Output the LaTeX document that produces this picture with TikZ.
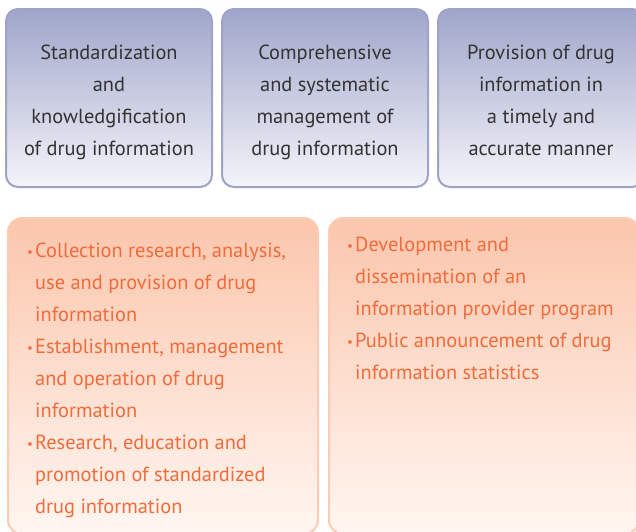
\documentclass[tikz,border=0pt]{standalone}
\usepackage{fontspec}
\setmainfont{PT Sans}
\usepackage{xcolor}
\usetikzlibrary{positioning,calc}

\definecolor{goalTop}{HTML}{A0A6CA}
\definecolor{goalBot}{HTML}{F4F4FA}
\definecolor{goalLine}{HTML}{9DA3C9}
\definecolor{taskTop}{HTML}{FBC6AC}
\definecolor{taskBot}{HTML}{FFF6F1}
\definecolor{taskLine}{HTML}{FBCBB4}
\definecolor{taskText}{HTML}{F26B3A}
\definecolor{goalText}{HTML}{333333}

\newcommand{\itm}{\makebox[8pt][l]{\raisebox{0.15ex}{\fontsize{13}{13}\selectfont\textbullet}}}
\newcommand{\cnt}{\hspace*{8pt}}

\tikzset{
  goal/.style={draw=goalLine, line width=2pt, rounded corners=12pt,
    top color=goalTop, bottom color=goalBot, minimum width=206pt,
    minimum height=178pt},
  goaltext/.style={text=goalText, align=center, inner sep=0pt,
    font=\fontsize{20.4}{32}\selectfont},
  task/.style={draw=taskLine, line width=2pt, rounded corners=14pt,
    top color=taskTop, bottom color=taskBot, minimum width=310pt,
    minimum height=316pt},
  tasktext/.style={text=taskText, align=left, inner sep=0pt,
    font=\fontsize{20.4}{32}\selectfont}
}

\begin{document}
\begin{tikzpicture}[x=1pt,y=-1pt]
\useasboundingbox (0,0) rectangle (636,531);

% Goals
\node[goal] (standard) at (109,98) {};
\node[goal] (manage) at (325,98) {};
\node[goal] (provide) at (541,98) {};

\node[goaltext, anchor=north] (standardtext) at ($(standard.north)+(0,37)$) {Standardization\\and\\knowledgification\\of drug information};
\node[goaltext, anchor=north] (managetext) at ($(manage.north)+(0,37)$) {Comprehensive\\and systematic\\management of\\drug information};
\node[goaltext, anchor=north] (providetext) at ($(provide.north)+(0,37)$) {Provision of drug\\information in\\a timely and\\accurate manner};

% Tasks
\node[task] (tasksA) at (163,376) {};
\node[task] (tasksB) at (484,376) {};

\node[tasktext, anchor=north west] (listA) at ($(tasksA.north west)+(20,26)$)
  {\itm Collection research, analysis,\\
   \cnt use and provision of drug\\
   \cnt information\\
   \itm Establishment, management\\
   \cnt and operation of drug\\
   \cnt information\\
   \itm Research, education and\\
   \cnt promotion of standardized\\
   \cnt drug information};
\node[tasktext, anchor=north west] (listB) at ($(tasksB.north west)+(19,20)$)
  {\itm Development and\\
   \cnt dissemination of an\\
   \cnt information provider program\\
   \itm Public announcement of drug\\
   \cnt information statistics};
\end{tikzpicture}
\end{document}
